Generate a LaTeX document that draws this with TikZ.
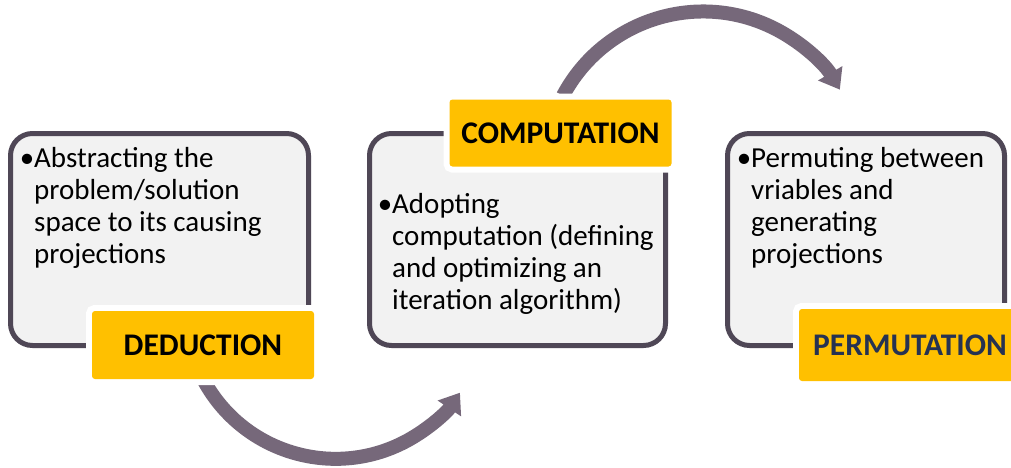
\documentclass[tikz,border=0pt]{standalone}
\usepackage{fontspec}
\setmainfont{Carlito}
\usetikzlibrary{arrows.meta}
\definecolor{frame}{RGB}{79,71,86}
\definecolor{panel}{RGB}{242,242,242}
\definecolor{gold}{RGB}{255,192,0}
\definecolor{flow}{RGB}{118,104,122}
\definecolor{navy}{RGB}{38,50,82}
\tikzset{
  panelbox/.style={draw=frame, line width=5pt, fill=panel, rounded corners=22pt, inner sep=0pt},
  bodytext/.style={anchor=north west, align=left, inner sep=0pt,
    font=\fontsize{29}{32}\selectfont},
  tagbox/.style={fill=gold, rounded corners=3pt, inner sep=0pt,
    preaction={draw=white, line width=12pt},
    minimum width=222pt, font=\bfseries\fontsize{31.5}{36}\selectfont},
  flowarrow/.style={draw=flow, line width=14pt,
    -{Triangle[length=19pt, width=27pt]}}
}
\begin{document}
\begin{tikzpicture}[x=1pt, y=-1pt]
\useasboundingbox (0,0) rectangle (1011,467);
\clip (0,0) rectangle (1011,467);
\fill[white] (0,0) rectangle (1011,467);

% curved flow arrows
\coordinate (c1) at (335.6,308.8);
\coordinate (c2) at (703.1,170.2);
\draw[flowarrow] ([shift={(151:150)}]c1) arc[start angle=151, end angle=34, radius=150];
\draw[flowarrow] ([shift={(208:158.7)}]c2) arc[start angle=208, end angle=329.5, radius=158.7];

% panels
\node[panelbox, minimum width=298pt, minimum height=212pt] (p1) at (159.5,239.5) {};
\node[panelbox, minimum width=296pt, minimum height=212pt] (p2) at (517.5,239.5) {};
\node[panelbox, minimum width=277pt, minimum height=212pt] (p3) at (866,239.5) {};

% panel texts
\node[bodytext] (t1) at (34,144.6) {\strut\llap{•}Abstracting the\\problem/solution\\space to its causing\\projections};
\node[bodytext] (t2) at (392,190.6) {\strut\llap{•}Adopting\\computation (defining\\and optimizing an\\iteration algorithm)};
\node[bodytext] (t3) at (751,144.6) {\strut\llap{•}Permuting between\\vriables and\\generating\\projections};

% stage labels
\node[tagbox, minimum height=68pt] (ded) at (203,345) {DEDUCTION};
\node[tagbox, minimum height=67pt] (comp) at (560.5,133) {COMPUTATION};
\node[tagbox, minimum height=72pt, text=navy] (perm) at (910,345) {PERMUTATION};
\end{tikzpicture}
\end{document}
